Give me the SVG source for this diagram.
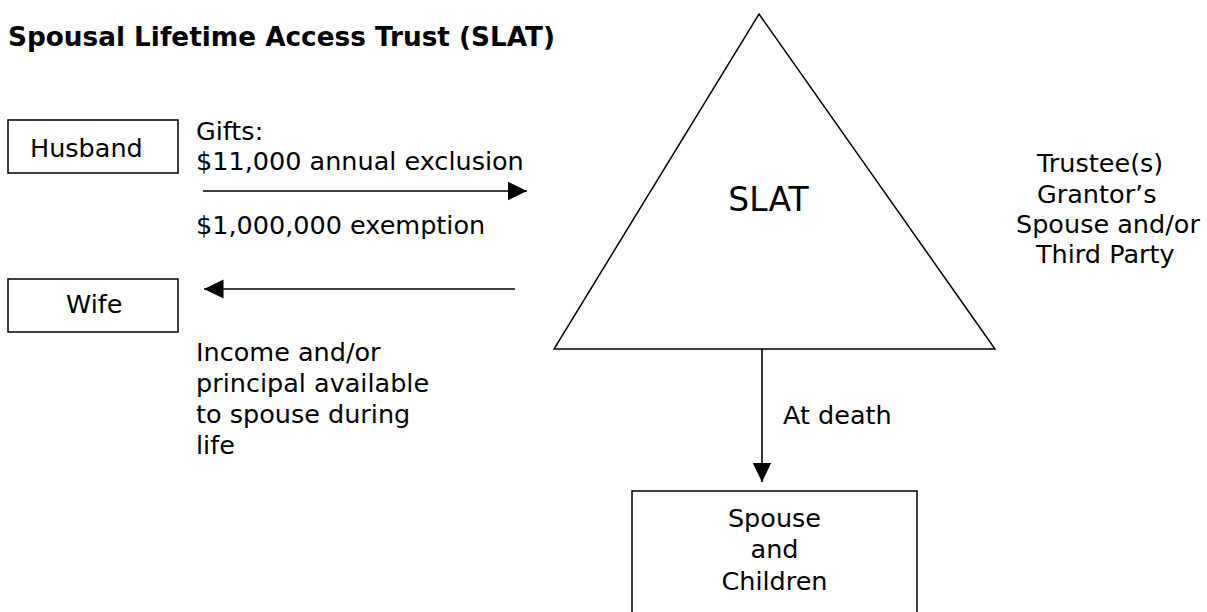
<svg xmlns="http://www.w3.org/2000/svg" width="1207" height="612" viewBox="0 0 1207 612">
  <style>
    text { font-family: "DejaVu Sans", Verdana, "Liberation Sans", sans-serif; font-size: 25.5px; fill: #000; }
    .title { font-weight: bold; font-size: 26.3px; }
    .big { font-size: 33px; }
    .box { fill: #fff; stroke: #000; stroke-width: 1.5; }
    .conn { stroke: #000; stroke-width: 1.6; fill: none; }
    .mid { text-anchor: middle; }
  </style>
  <defs>
    <marker id="ah" markerUnits="userSpaceOnUse" markerWidth="20" markerHeight="20" refX="19.5" refY="9.5" orient="auto">
      <path d="M0,0 L19.5,9.5 L0,19 Z" fill="#000"/>
    </marker>
  </defs>
  <rect width="1207" height="612" fill="#fff"/>

  <text id="title" class="title" x="8" y="46">Spousal Lifetime Access Trust (SLAT)</text>

  <g id="husband">
    <rect class="box" x="8" y="120" width="170" height="53"/>
    <text x="30" y="157">Husband</text>
  </g>

  <g id="wife">
    <rect class="box" x="8" y="279" width="170" height="53"/>
    <text x="66" y="313">Wife</text>
  </g>

  <g id="slat">
    <polygon class="box" points="759,14 995,349 554,349"/>
    <text class="big mid" x="768.5" y="211">SLAT</text>
  </g>

  <g id="trustees">
    <text x="1037" y="172">Trustee(s)</text>
    <text x="1037" y="203">Grantor’s</text>
    <text x="1016" y="233">Spouse and/or</text>
    <text x="1036" y="263">Third Party</text>
  </g>

  <g id="beneficiaries">
    <rect class="box" x="632" y="491" width="285" height="140"/>
    <text class="mid" x="774.5" y="527">Spouse</text>
    <text class="mid" x="774.5" y="558">and</text>
    <text class="mid" x="774.5" y="590">Children</text>
  </g>

  <g id="connectors">
    <line class="conn" x1="203" y1="191" x2="527" y2="191" marker-end="url(#ah)"/>
    <line class="conn" x1="515" y1="289" x2="204" y2="289" marker-end="url(#ah)"/>
    <line class="conn" x1="762" y1="349" x2="762" y2="482" marker-end="url(#ah)"/>
  </g>

  <g id="labels">
    <text x="196" y="140">Gifts:</text>
    <text x="196" y="170">$11,000 annual exclusion</text>
    <text x="196" y="234">$1,000,000 exemption</text>
    <text x="196" y="361">Income and/or</text>
    <text x="196" y="392">principal available</text>
    <text x="196" y="423">to spouse during</text>
    <text x="196" y="454">life</text>
    <text x="783" y="424">At death</text>
  </g>
</svg>
